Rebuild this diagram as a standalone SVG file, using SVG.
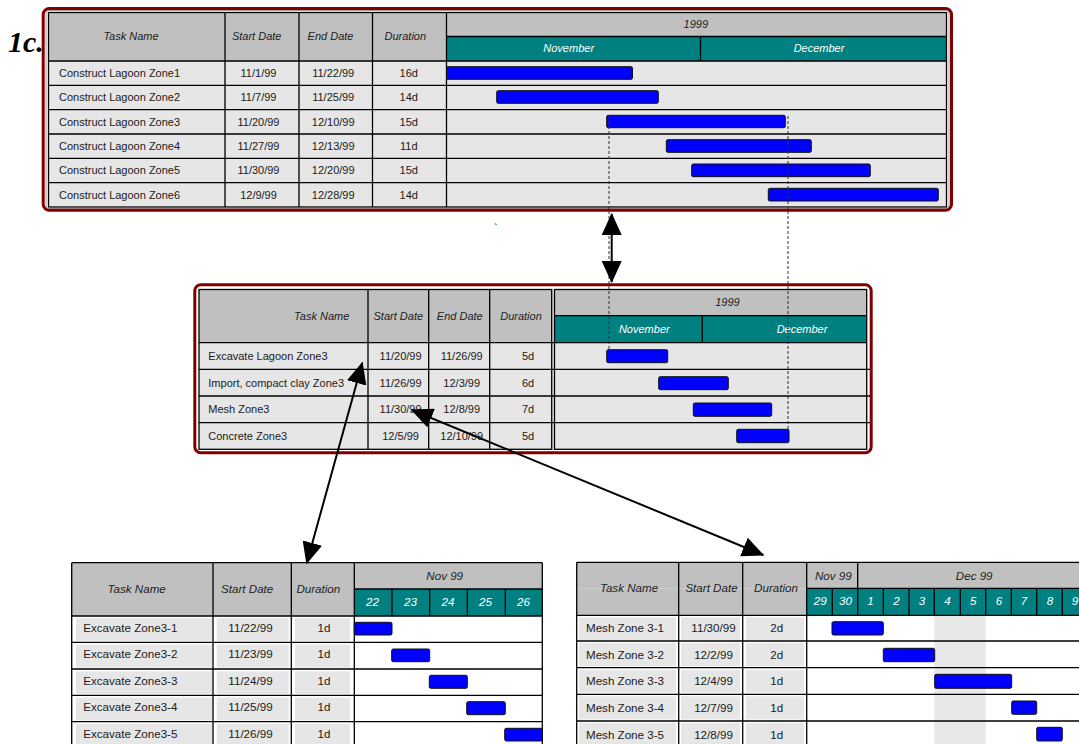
<svg xmlns="http://www.w3.org/2000/svg" width="1079" height="744" viewBox="0 0 1079 744">
<style>
.frame{fill:none;stroke:#800000;stroke-width:3}
.inner{fill:none;stroke:#a0a0a0;stroke-width:1}
.hdr{fill:#c0c0c0}
.teal{fill:#008080}
.rowbg{fill:#e6e6e6}
.cell{fill:#e6e6e6}
.ln{stroke:#000;stroke-width:1.3;fill:none}
.bar{fill:#0000ff;stroke:#111;stroke-width:1}
.h{font-family:"Liberation Sans",Arial,sans-serif;font-style:italic;font-size:11px;fill:#222;text-anchor:middle}
.hw{font-family:"Liberation Sans",Arial,sans-serif;font-style:italic;font-size:11px;fill:#fff;text-anchor:middle}
.t{font-family:"Liberation Sans",Arial,sans-serif;font-size:11px;fill:#1a1a1a}
.c{text-anchor:middle}
.b{font-size:11.6px}
.dash{stroke:#333;stroke-width:1;stroke-dasharray:3 2;fill:none}
.arr{stroke:#000;stroke-width:2;fill:none;marker-start:url(#head);marker-end:url(#head)}
</style>
<defs>
<marker id="head" markerUnits="userSpaceOnUse" viewBox="0 0 22 20" markerWidth="22" markerHeight="20" refX="21" refY="10" orient="auto-start-reverse">
<path d="M0,0 L22,10 L0,20 z" fill="#000"/>
</marker>
</defs>
<rect width="1079" height="744" fill="#fff"/>

<g id="top-chart">
<rect x="48.5" y="61" width="898" height="146" class="rowbg"/>
<rect x="48.5" y="12.5" width="398" height="48.5" class="hdr"/>
<rect x="446.5" y="12.5" width="500" height="24" class="hdr"/>
<rect x="446.5" y="36.5" width="500" height="24.5" class="teal"/>
<rect x="48.5" y="12.5" width="898" height="194.5" class="ln" stroke-width="1.5"/>
<path class="ln" d="M225,12.5V207 M299,12.5V207 M372.5,12.5V207 M446.5,12.5V207 M700.5,36.5V61 M446.5,36.5H946.5 M48.5,61H946.5 M48.5,85.3H946.5 M48.5,109.7H946.5 M48.5,134H946.5 M48.5,158.3H946.5 M48.5,182.7H946.5"/>
<text class="h" x="131" y="40">Task Name</text>
<text class="h" x="256.7" y="40">Start Date</text>
<text class="h" x="330.5" y="40">End Date</text>
<text class="h" x="405.3" y="40">Duration</text>
<text class="h" x="695.8" y="28">1999</text>
<text class="hw" x="568.7" y="52">November</text>
<text class="hw" x="819" y="52">December</text>
<g class="t">
<text x="59" y="77">Construct Lagoon Zone1</text>
<text x="59" y="101.3">Construct Lagoon Zone2</text>
<text x="59" y="125.7">Construct Lagoon Zone3</text>
<text x="59" y="150">Construct Lagoon Zone4</text>
<text x="59" y="174.3">Construct Lagoon Zone5</text>
<text x="59" y="198.7">Construct Lagoon Zone6</text>
</g>
<g class="t c">
<text x="258.5" y="77">11/1/99</text>
<text x="258.5" y="101.3">11/7/99</text>
<text x="258.5" y="125.7">11/20/99</text>
<text x="258.5" y="150">11/27/99</text>
<text x="258.5" y="174.3">11/30/99</text>
<text x="258.5" y="198.7">12/9/99</text>
<text x="333.2" y="77">11/22/99</text>
<text x="333.2" y="101.3">11/25/99</text>
<text x="333.2" y="125.7">12/10/99</text>
<text x="333.2" y="150">12/13/99</text>
<text x="333.2" y="174.3">12/20/99</text>
<text x="333.2" y="198.7">12/28/99</text>
<text x="408.8" y="77">16d</text>
<text x="408.8" y="101.3">14d</text>
<text x="408.8" y="125.7">15d</text>
<text x="408.8" y="150">11d</text>
<text x="408.8" y="174.3">15d</text>
<text x="408.8" y="198.7">14d</text>
</g>
<rect class="bar" x="446.5" y="66.7" width="186" height="12.6" rx="1.5"/>
<rect class="bar" x="496.7" y="90.7" width="161.6" height="12.6" rx="1.5"/>
<rect class="bar" x="606.7" y="115.3" width="178.6" height="12.4" rx="1.5"/>
<rect class="bar" x="666.3" y="139.7" width="145" height="12.6" rx="1.5"/>
<rect class="bar" x="691.7" y="164" width="178.6" height="12.7" rx="1.5"/>
<rect class="bar" x="768.3" y="188.3" width="170" height="12.7" rx="1.5"/>
<rect class="inner" x="46" y="10.5" width="903" height="198" rx="3"/>
<rect class="frame" x="43.2" y="8.5" width="908.3" height="201.7" rx="6"/>
</g>

<g id="label-1c">
<text x="8" y="52" font-family="'Liberation Serif','Times New Roman',serif" font-weight="bold" font-style="italic" font-size="30" fill="#000">1c.</text>
</g>

<text x="494" y="232" font-family="'Liberation Sans',Arial,sans-serif" font-size="11" fill="#000">`</text>

<g id="mid-chart">
<rect x="199" y="342.7" width="667.7" height="106.6" class="rowbg"/>
<rect x="551.7" y="289.5" width="2.8" height="159.8" class="rowbg"/>
<rect x="199" y="289.5" width="352.7" height="53.2" class="hdr"/>
<rect x="554.5" y="289.5" width="312.2" height="26.2" class="hdr"/>
<rect x="554.5" y="315.7" width="312.2" height="27" class="teal"/>
<rect class="ln" x="199" y="289.5" width="352.7" height="159.8"/>
<rect class="ln" x="554.5" y="289.5" width="312.2" height="159.8"/>
<path class="ln" d="M368,289.5V449.3 M428.7,289.5V449.3 M489.7,289.5V449.3 M554.5,315.7H866.7 M702.3,315.7V342.7 M199,342.7H866.7 M199,369.3H872 M199,396H872 M199,422.7H872"/>
<text class="h" x="321.7" y="320">Task Name</text>
<text class="h" x="398.3" y="320">Start Date</text>
<text class="h" x="459.8" y="320">End Date</text>
<text class="h" x="521" y="320">Duration</text>
<text class="h" x="727.5" y="306">1999</text>
<text class="hw" x="644.3" y="333">November</text>
<text class="hw" x="802" y="333">December</text>
<g class="t">
<text x="208.3" y="360">Excavate Lagoon Zone3</text>
<text x="208.3" y="386.7">Import, compact clay Zone3</text>
<text x="208.3" y="413.3">Mesh Zone3</text>
<text x="208.3" y="440">Concrete Zone3</text>
</g>
<g class="t c">
<text x="400.6" y="360">11/20/99</text>
<text x="400.6" y="386.7">11/26/99</text>
<text x="400.6" y="413.3">11/30/99</text>
<text x="400.6" y="440">12/5/99</text>
<text x="461.7" y="360">11/26/99</text>
<text x="461.7" y="386.7">12/3/99</text>
<text x="461.7" y="413.3">12/8/99</text>
<text x="461.7" y="440">12/10/99</text>
<text x="528" y="360">5d</text>
<text x="528" y="386.7">6d</text>
<text x="528" y="413.3">7d</text>
<text x="528" y="440">5d</text>
</g>
<rect class="bar" x="606.7" y="349.7" width="61" height="13" rx="1.5"/>
<rect class="bar" x="658.7" y="376.7" width="69.6" height="13" rx="1.5"/>
<rect class="bar" x="693.3" y="403" width="78.4" height="13.3" rx="1.5"/>
<rect class="bar" x="736.7" y="429.3" width="52.3" height="13.4" rx="1.5"/>
<rect class="frame" x="194.8" y="284.8" width="676.4" height="168" rx="6"/>
</g>

<g id="excavate-chart">
<rect x="71.7" y="562.7" width="282.6" height="53.3" class="hdr"/>
<rect x="354.3" y="562.7" width="188" height="26.3" class="hdr"/>
<rect x="354.3" y="589" width="188" height="27" class="teal"/>
<g class="cell">
<rect x="76" y="618.3" width="136" height="22.7"/>
<rect x="216.7" y="618.3" width="72" height="22.7"/>
<rect x="295" y="618.3" width="55" height="22.7"/>
<rect x="76" y="644.6" width="136" height="23"/>
<rect x="216.7" y="644.6" width="72" height="23"/>
<rect x="295" y="644.6" width="55" height="23"/>
<rect x="76" y="671.3" width="136" height="22.7"/>
<rect x="216.7" y="671.3" width="72" height="22.7"/>
<rect x="295" y="671.3" width="55" height="22.7"/>
<rect x="76" y="697.6" width="136" height="22.8"/>
<rect x="216.7" y="697.6" width="72" height="22.8"/>
<rect x="295" y="697.6" width="55" height="22.8"/>
<rect x="76" y="724" width="136" height="22.7"/>
<rect x="216.7" y="724" width="72" height="22.7"/>
<rect x="295" y="724" width="55" height="22.7"/>
</g>
<path class="ln" stroke-width="1.5" d="M71.7,562.7H542.3 M71.7,562.7V746 M213,562.7V746 M291.3,562.7V746 M354.3,562.7V746 M542.3,562.7V746 M354.3,589H542.3 M392,589V616 M429.7,589V616 M467.3,589V616 M505.3,589V616 M71.7,616H542.3 M71.7,642.3H542.3 M71.7,669H542.3 M71.7,695.3H542.3 M71.7,721.7H542.3"/>
<g class="h b">
<text x="136.7" y="593">Task Name</text>
<text x="247.2" y="593">Start Date</text>
<text x="318.3" y="593">Duration</text>
<text x="444.7" y="580">Nov 99</text>
</g>
<g class="hw b">
<text x="372.5" y="606">22</text>
<text x="410.5" y="606">23</text>
<text x="448" y="606">24</text>
<text x="485.5" y="606">25</text>
<text x="523.5" y="606">26</text>
</g>
<g class="t b">
<text x="83.3" y="631.7">Excavate Zone3-1</text>
<text x="83.3" y="658.1">Excavate Zone3-2</text>
<text x="83.3" y="684.5">Excavate Zone3-3</text>
<text x="83.3" y="710.9">Excavate Zone3-4</text>
<text x="83.3" y="737.6">Excavate Zone3-5</text>
</g>
<g class="t b c">
<text x="250.5" y="631.7">11/22/99</text>
<text x="250.5" y="658.1">11/23/99</text>
<text x="250.5" y="684.5">11/24/99</text>
<text x="250.5" y="710.9">11/25/99</text>
<text x="250.5" y="737.6">11/26/99</text>
<text x="324" y="631.7">1d</text>
<text x="324" y="658.1">1d</text>
<text x="324" y="684.5">1d</text>
<text x="324" y="710.9">1d</text>
<text x="324" y="737.6">1d</text>
</g>
<rect class="bar" x="354.3" y="622.3" width="37.7" height="12.7" rx="1.5"/>
<rect class="bar" x="391.7" y="649" width="38" height="12.7" rx="1.5"/>
<rect class="bar" x="429.3" y="675.3" width="38" height="13" rx="1.5"/>
<rect class="bar" x="466.7" y="701.7" width="38.6" height="13" rx="1.5"/>
<rect class="bar" x="504.7" y="728.3" width="37.6" height="12.7" rx="1.5"/>
</g>

<g id="mesh-chart">
<rect x="576.7" y="562.3" width="513" height="26" class="hdr"/>
<rect x="576.7" y="588.3" width="230" height="27" class="hdr"/>
<rect x="806.7" y="588.3" width="283" height="27" class="teal"/>
<rect x="934.3" y="615.3" width="51.4" height="130" fill="#e8e8e8"/>
<g class="cell">
<rect x="579" y="617.3" width="97" height="22.7"/>
<rect x="681" y="617.3" width="59" height="22.7"/>
<rect x="746" y="617.3" width="58" height="22.7"/>
<rect x="579" y="643" width="97" height="23.2"/>
<rect x="681" y="643" width="59" height="23.2"/>
<rect x="746" y="643" width="58" height="23.2"/>
<rect x="579" y="669.7" width="97" height="23.1"/>
<rect x="681" y="669.7" width="59" height="23.1"/>
<rect x="746" y="669.7" width="58" height="23.1"/>
<rect x="579" y="696.3" width="97" height="23.2"/>
<rect x="681" y="696.3" width="59" height="23.2"/>
<rect x="746" y="696.3" width="58" height="23.2"/>
<rect x="579" y="723" width="97" height="23"/>
<rect x="681" y="723" width="59" height="23"/>
<rect x="746" y="723" width="58" height="23"/>
</g>
<path class="ln" stroke-width="1.5" d="M576.7,562.3H1090 M576.7,562.3V746 M678.7,562.3V746 M742.7,562.3V746 M806.7,562.3V746 M857.7,562.3V588.3 M806.7,588.3H1090 M832.3,588.3V615.3 M857.7,588.3V615.3 M883.3,588.3V615.3 M909,588.3V615.3 M934.3,588.3V615.3 M960.3,588.3V615.3 M985.7,588.3V615.3 M1011.3,588.3V615.3 M1036.7,588.3V615.3 M1062.3,588.3V615.3 M576.7,615.3H1090 M576.7,641H1090 M576.7,667.7H1090 M576.7,694.3H1090 M576.7,721H1090"/>
<g class="h b">
<text x="629" y="592.3">Task Name</text>
<text x="711.5" y="592.3">Start Date</text>
<text x="776" y="592.3">Duration</text>
<text x="833.3" y="579.5">Nov 99</text>
<text x="974.2" y="579.5">Dec 99</text>
</g>
<g class="hw b">
<text x="820.2" y="605">29</text>
<text x="845.5" y="605">30</text>
<text x="870.5" y="605">1</text>
<text x="896.5" y="605">2</text>
<text x="922" y="605">3</text>
<text x="947.5" y="605">4</text>
<text x="973.3" y="605">5</text>
<text x="999" y="605">6</text>
<text x="1024" y="605">7</text>
<text x="1050" y="605">8</text>
<text x="1075" y="605">9</text>
</g>
<g class="t b">
<text x="586" y="632">Mesh Zone 3-1</text>
<text x="586" y="658.7">Mesh Zone 3-2</text>
<text x="586" y="685.3">Mesh Zone 3-3</text>
<text x="586" y="712">Mesh Zone 3-4</text>
<text x="586" y="738.6">Mesh Zone 3-5</text>
</g>
<g class="t b c">
<text x="713.5" y="632">11/30/99</text>
<text x="713.5" y="658.7">12/2/99</text>
<text x="713.5" y="685.3">12/4/99</text>
<text x="713.5" y="712">12/7/99</text>
<text x="713.5" y="738.6">12/8/99</text>
<text x="776.7" y="632">2d</text>
<text x="776.7" y="658.7">2d</text>
<text x="776.7" y="685.3">1d</text>
<text x="776.7" y="712">1d</text>
<text x="776.7" y="738.6">1d</text>
</g>
<rect class="bar" x="832" y="621.7" width="51.3" height="13.3" rx="1.5"/>
<rect class="bar" x="883.3" y="648.3" width="51.4" height="13.4" rx="1.5"/>
<rect class="bar" x="934.7" y="674.3" width="77" height="14" rx="1.5"/>
<rect class="bar" x="1011.7" y="701" width="25" height="13.3" rx="1.5"/>
<rect class="bar" x="1036.7" y="727.3" width="25.6" height="13.7" rx="1.5"/>
</g>

<g id="connectors">
<path class="dash" d="M609,116V350"/>
<path class="dash" d="M788,116V429.5"/>
<line class="arr" x1="611.7" y1="214" x2="611.7" y2="282"/>
<line class="arr" x1="362.3" y1="362.7" x2="306.7" y2="563.3"/>
<line class="arr" x1="411.7" y1="410" x2="763.3" y2="555"/>
</g>
</svg>
